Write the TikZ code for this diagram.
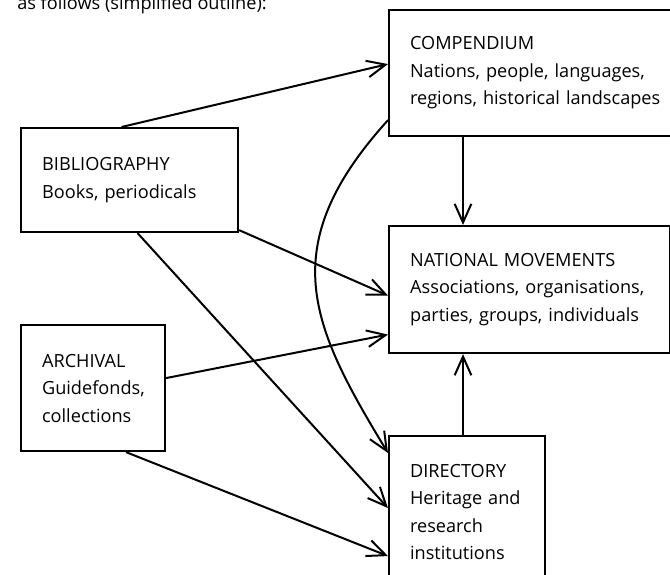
\documentclass[tikz,border=0pt]{standalone}
\usepackage{fontspec}
\setmainfont{Open Sans}
\usetikzlibrary{arrows.meta,calc}
\newcommand{\bodyfnt}{\fontsize{13.6}{20.6}\selectfont}
\begin{document}
\begin{tikzpicture}[x=0.75pt,y=-0.75pt,
  box/.style={draw, line width=1.6pt, anchor=north west, align=left,
    inner xsep=15.75pt, inner ysep=0pt, font=\bodyfnt},
  conn/.style={line width=1.5pt, -{Straight Barb[length=14pt,width=12.5pt]}},
  lbl/.style={anchor=base west, inner sep=0pt, font=\bodyfnt}]
\useasboundingbox (0,0) rectangle (670,574);
\clip (0,0) rectangle (670,574);

\node[lbl] (title) at (17,10) {as follows (simplified outline):};

\node[box, minimum width=211.5pt, minimum height=94.5pt, text width=180pt] (comp) at (388,9)
  {COMPENDIUM\\\mbox{Nations, people, languages,}\\\mbox{regions, historical landscapes}};
\node[box, minimum width=210.75pt, minimum height=95.25pt, text width=179pt] (nat) at (388,225)
  {\mbox{NATIONAL MOVEMENTS}\\\mbox{Associations, organisations,}\\\mbox{parties, groups, individuals}};
\node[box, minimum width=162.75pt, minimum height=78pt, text width=131pt] (bib) at (20,127)
  {BIBLIOGRAPHY\\\mbox{Books, periodicals}};
\node[box, minimum width=108pt, minimum height=94.5pt, text width=76.5pt] (arch) at (20,324)
  {ARCHIVAL\\Guidefonds,\\collections};
\node[box, minimum width=117pt, minimum height=114pt, text width=85.5pt] (dir) at (388,435)
  {DIRECTORY\\\mbox{Heritage and}\\research\\institutions};

% connectors
\draw[conn] ($(bib.north)+(-8,0)$) -- ($(comp.west)+(0,-9)$);
\draw[conn] ($(bib.south east)+(0,-3)$) -- ($(nat.west)+(0,6)$);
\draw[conn] ($(bib.south)+(8,0)$) -- ($(dir.west)+(0,-4)$);
\draw[conn] ($(arch.east)+(0,-10)$) -- ($(nat.west)+(0,45)$);
\draw[conn] ($(arch.south)+(33,0)$) -- ($(dir.west)+(0,44)$);
\draw[conn] ($(comp.south west)+(0,-17)$) .. controls +(-115,127) and +(-77,-127) .. ($(dir.north west)+(0,18)$);
\draw[conn] ($(comp.south west)+(75,0)$) -- ($(nat.north west)+(75,0)$);
\draw[conn] ($(dir.north west)+(75,0)$) -- ($(nat.south west)+(75,0)$);
\end{tikzpicture}
\end{document}
